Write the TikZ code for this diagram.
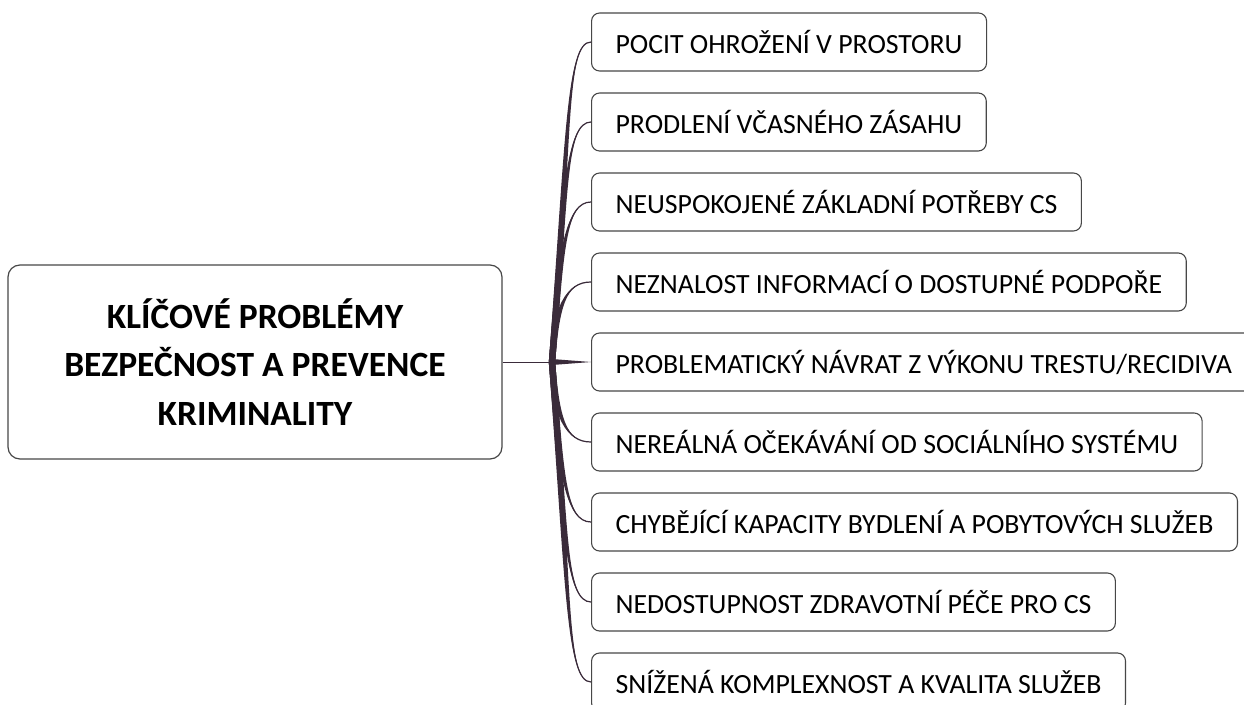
\documentclass[tikz,border=0pt]{standalone}
\usepackage{fontspec}
\setmainfont{Carlito}
\usetikzlibrary{positioning,calc}
\definecolor{branchcol}{HTML}{3A2B3A}
\definecolor{framecol}{HTML}{474747}

\begin{document}
\begin{tikzpicture}[x=1pt, y=-1pt,
      topic/.style={rectangle, draw=framecol, line width=1.2pt, fill=white, rounded corners=12pt, align=center, minimum width=494pt, minimum height=194pt, font=\fontsize{35.5}{48.5}\selectfont\bfseries},
      problem/.style={rectangle, draw=framecol, line width=1.1pt, fill=white, rounded corners=8pt, anchor=west, minimum height=58pt, inner xsep=24pt, font=\fontsize{27.8}{30}\selectfont},
      branch/.style={fill=branchcol},
      ]
      \useasboundingbox (0,0) rectangle (1244,704);
      \fill[white] (0,0) rectangle (1244,704);

      \node[topic] (KP) at (255,362) {KLÍČOVÉ PROBLÉMY\\BEZPEČNOST A PREVENCE\\KRIMINALITY};
      \coordinate (root) at (552,362);

      \node[problem] (P1) at (591,42) {POCIT OHROŽENÍ V PROSTORU};
      \node[problem] (P2) at (591,122) {PRODLENÍ VČASNÉHO ZÁSAHU};
      \node[problem] (P3) at (591,202) {NEUSPOKOJENÉ ZÁKLADNÍ POTŘEBY CS};
      \node[problem] (P4) at (591,282) {NEZNALOST INFORMACÍ O DOSTUPNÉ PODPOŘE};
      \node[problem] (P5) at (591,362) {PROBLEMATICKÝ NÁVRAT Z VÝKONU TRESTU/RECIDIVA};
      \node[problem] (P6) at (591,442) {NEREÁLNÁ OČEKÁVÁNÍ OD SOCIÁLNÍHO SYSTÉMU};
      \node[problem] (P7) at (591,522) {CHYBĚJÍCÍ KAPACITY BYDLENÍ A POBYTOVÝCH SLUŽEB};
      \node[problem] (P8) at (591,602) {NEDOSTUPNOST ZDRAVOTNÍ PÉČE PRO CS};
      \node[problem] (P9) at (591,682) {SNÍŽENÁ KOMPLEXNOST A KVALITA SLUŽEB};

      \draw[branchcol, line width=1pt] (KP.east) -- (root);
      \fill[branch] ($(root)+(0,-3)$) -- (P5.west) -- ($(root)+(0,3)$) -- cycle;
      % tapered branches along a leaning trunk
      \foreach \n/\dy/\dx in {1/-224/17,2/-168/13,3/-112/8.5,4/-56/4.2,6/56/4.2,7/112/8.5,8/168/13,9/224/17} {
        \fill[branch] ($(root)+(-3.2,0)$) .. controls +(\dx,\dy) and +(-25,0) .. (P\n.west)
          .. controls +(-25,0) and +(\dx,\dy) .. ($(root)+(3.2,0)$) -- cycle;
        \draw[branchcol, line width=1.2pt] (root) .. controls +(\dx,\dy) and +(-25,0) .. (P\n.west);
      }
\end{tikzpicture}
\end{document}
